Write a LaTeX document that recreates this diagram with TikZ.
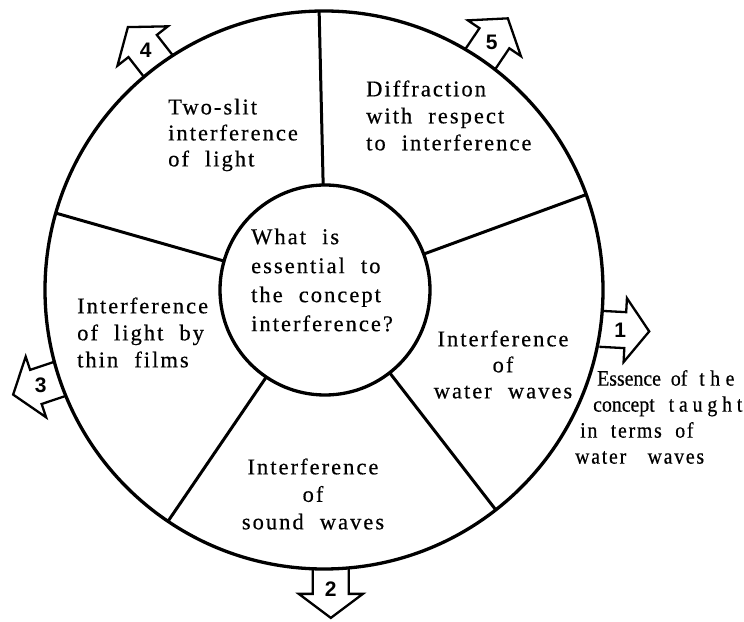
\documentclass[tikz,border=0pt]{standalone}
\usepackage{fontspec}
\setmainfont{Liberation Serif}[LetterSpace=9,WordSpace=2.1,FakeBold=0.5]
\newfontfamily\essfont{Liberation Serif}[FakeStretch=0.9,WordSpace=2,FakeBold=0.5]
\newfontfamily\numfont{Liberation Sans}
\tikzset{
  ring/.style={circle, draw, line width=3.3pt, inner sep=0pt, outer sep=0pt},
  spoke/.style={line width=3pt},
  blockarrow/.style={line width=2.3pt, line join=miter},
  txt/.style={inner sep=0pt, font=\fontsize{22.5}{27}\selectfont},
  num/.style={inner sep=0pt, font=\numfont\bfseries\fontsize{21}{21}\selectfont},
}
\newcommand{\blockarr}[4]{%
  \begin{scope}[shift={(outer.center)}, rotate=#2, shift={(279,0)}, rotate={#3-(#2)}]
    \draw[blockarrow] (0,18) -- (25,18) -- (25,32) -- (49,0) -- (25,-32) -- (25,-18) -- (0,-18);
    \node[num] (#1) at (20,0) {#4};
  \end{scope}}
\begin{document}
\begin{tikzpicture}[x=1pt,y=1pt]
\fill[white] (0,0) rectangle (744,621);
\useasboundingbox (0,0) rectangle (744,621);
\node[ring, minimum size=558pt] (outer) at (324,331) {};
\node[ring, minimum size=210pt] (inner) at (325,331) {};
\draw[spoke] (inner.91) -- (outer.91);
\draw[spoke] (inner.20) -- (outer.20);
\draw[spoke] (inner.-52) -- (outer.-52);
\draw[spoke] (inner.236) -- (outer.236);
\draw[spoke] (inner.164) -- (outer.164);
% texts
\node[txt, align=left, anchor=west, font=\fontsize{22.5}{29}\selectfont] (q) at (251,341) {What is\\essential to\\the concept\\interference?};
\node[txt, align=left, anchor=west, font=\fontsize{22.5}{26}\selectfont] (twoslit) at (168,486) {Two-slit\\interference\\of light};
\node[txt, align=left, anchor=west] (diffr) at (366,505.5) {Diffraction\\with respect\\to interference};
\node[txt, align=left, anchor=west] (thin) at (77,288.5) {Interference\\of light by\\thin films};
\node[txt, align=center, font=\fontsize{22.5}{26}\selectfont] (water) at (503,256.5) {Interference\\of\\water waves};
\node[txt, align=center, font=\fontsize{22.5}{27.5}\selectfont] (sound) at (313,127) {Interference\\of\\sound waves};
\node[txt, align=left, anchor=west, font=\essfont\fontsize{22}{26}\selectfont] (essence) at (575,204)
  {\hspace*{22pt}Essence of\hspace{2pt} {\addfontfeature{LetterSpace=25}the}\\\hspace*{18pt}concept\hspace{4pt} {\addfontfeature{LetterSpace=22}taught}\\\hspace*{5pt}{\addfontfeature{LetterSpace=8}in terms of}\\{\addfontfeature{LetterSpace=8}water\hspace{8pt} waves}};
% block arrows
\blockarr{n1}{-8}{-3}{1}
\blockarr{n2}{-88.6}{-90}{2}
\blockarr{n3}{198.6}{198.6}{3}
\blockarr{n4}{126.5}{128}{4}
\blockarr{n5}{55.9}{56}{5}
\end{tikzpicture}
\end{document}
